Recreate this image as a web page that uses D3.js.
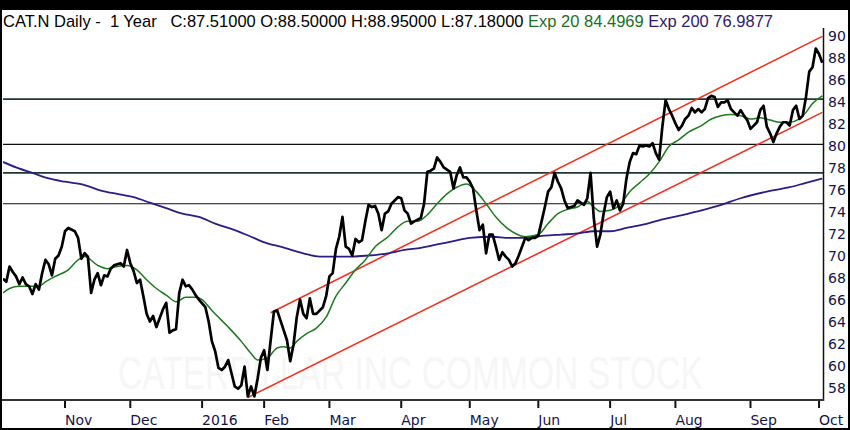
<!DOCTYPE html>
<html><head><meta charset="utf-8">
<script src="https://cdn.jsdelivr.net/npm/d3@7"></script>
<style>html,body{margin:0;padding:0;background:#000;} svg{display:block}</style>
</head><body>
<svg id="chart" width="850" height="430"></svg>
<script>
// ---- calendar ----
const startDate = "2015-10-06";
const endDate = "2016-10-04";
const holidays = ["2015-11-26","2015-12-25","2016-01-01","2016-01-18","2016-02-15","2016-03-25","2016-05-30","2016-07-04","2016-09-05"];
const monthStarts = ["2015-11","2015-12","2016-01","2016-02","2016-03","2016-04","2016-05","2016-06","2016-07","2016-08","2016-09","2016-10"];
const monthLabels = ["Nov","Dec","2016","Feb","Mar","Apr","May","Jun","Jul","Aug","Sep","Oct"];
const yTickLabels = [58,60,62,64,66,68,70,72,74,76,78,80,82,84,86,88,90];

// ---- close (trading-day offset from start, value) ----
const closeDay = [0,1,2,3,4,5,6,7,8,9,10,11,12,13,14,15,16,17,18,19,20,22,23,24,25,26,27,28,29,30,31,32,33,34,36,37,38,39,40,41,42,43,44,45,46,47,48,49,50,51,52,53,54,55,56,57,58,59,60,62,63,64,65,66,67,68,69,70,71,72,73,74,75,76,77,78,79,80,81,82,83,84,85,86,87,88,89,90,91,92,93,94,95,96,98,99,100,101,102,103,104,105,106,107,108,109,110,111,112,113,114,115,116,117,118,119,120,121,122,123,124,125,126,128,129,130,131,132,133,134,135,137,138,139,140,141,142,143,144,145,146,147,148,149,150,151,152,153,154,155,156,157,158,159,160,161,162,163,164,165,166,167,168,169,170,171,172,173,174,175,176,177,178,179,180,181,182,183,184,185,186,187,188,189,190,191,192,193,194,195,196,197,198,199,200,201,202,203,204,205,206,207,208,209,210,211,212,213,214,215,216,217,218,219,220,221,222,223,224,225,226,227,228,229,230,231,232,233,234,235,236,237,238,239,240,241,242,243,244,245,246,247,248,249,250,251];
const closeVal = [67.9,67.6,69.0,68.5,68.1,67.4,68.0,67.4,67.2,66.5,67.4,66.9,68.4,69.6,69.2,68.2,69.7,70.0,70.8,72.2,72.5,72.2,71.6,69.7,70.2,69.9,66.6,67.8,68.4,67.3,68.2,68.1,68.8,69.1,69.3,69.0,70.5,69.3,68.6,67.5,67.8,66.3,64.7,64.0,64.5,63.5,64.3,65.1,65.7,63.0,63.2,63.3,66.6,67.8,67.2,67.3,66.9,66.4,66.0,65.3,64.0,62.2,61.3,59.8,59.6,59.9,60.5,59.3,58.1,57.9,58.2,59.9,57.2,58.1,57.2,58.8,60.7,61.4,59.6,62.3,64.9,65.0,64.1,63.2,62.3,60.4,61.9,64.4,66.0,64.7,64.3,66.1,64.7,64.7,65.3,66.3,68.1,68.4,70.6,71.7,73.5,70.8,70.6,70.0,71.5,71.2,71.4,73.1,74.6,74.4,74.5,73.8,72.3,73.8,74.0,74.7,75.0,75.3,75.2,74.1,73.8,72.9,73.1,73.4,74.7,77.6,77.7,77.9,78.9,78.5,78.0,77.6,76.1,77.3,78.0,77.1,77.1,76.7,76.1,74.1,72.3,72.8,70.2,71.9,71.9,70.8,69.6,70.3,69.9,69.6,69.0,69.3,70.0,70.8,71.6,71.4,71.6,71.6,71.8,73.1,74.4,75.8,76.2,77.5,76.7,76.1,75.0,74.3,74.4,74.5,75.0,74.8,74.6,75.2,77.5,73.4,70.8,71.9,73.8,75.3,75.8,74.3,75.0,74.1,74.7,77.0,78.5,79.3,79.2,80.0,79.9,80.0,79.9,80.2,79.3,78.7,81.7,84.1,83.3,82.7,82.0,81.4,81.8,82.4,82.7,83.4,83.0,83.3,83.0,83.3,84.3,84.5,84.4,83.5,83.9,83.9,84.1,83.3,83.0,82.7,83.2,82.7,82.3,81.5,81.8,82.1,83.2,83.6,81.7,81.1,80.3,81.1,81.7,82.1,82.1,81.8,83.2,83.6,82.4,82.7,84.4,86.7,87.1,88.8,88.3,87.51];

// ---- Exp 20 ----
const ema20Day = [0,2,5,8,11,13,16,20,23,25,29,32,35,38,41,44,47,50,53,56,59,61,64,69,73,76,78,81,84,86,88,90,93,96,99,102,105,108,111,114,118,121,124,127,130,133,136,139,142,145,148,151,154,157,160,164,167,170,173,176,179,181,183,186,189,192,195,198,201,204,207,210,214,217,220,223,226,229,232,235,238,241,244,246,248,251];
const ema20Val = [66.6,67.0,67.2,67.2,67.2,67.6,68.1,68.7,69.6,69.9,69.1,68.8,69.0,69.1,68.7,67.8,67.0,66.4,65.8,66.2,66.2,66.0,65.0,63.5,62.2,61.1,60.5,60.7,61.6,61.7,61.6,62.2,62.9,63.4,64.4,66.3,67.5,68.7,69.6,70.8,71.7,72.6,73.1,73.1,73.7,74.7,75.6,76.2,76.5,75.8,74.7,73.5,72.6,72.0,71.7,71.9,72.9,73.8,74.2,74.4,74.9,74.4,74.0,74.1,74.6,75.8,76.6,77.4,78.5,79.9,80.5,81.2,81.8,82.4,82.7,82.8,82.7,82.4,82.5,82.3,82.1,82.1,82.4,83.0,83.8,84.4969];

// ---- Exp 200 ----
const ema200Day = [0,4,9,14,19,25,30,35,40,45,50,55,60,65,71,76,81,85,92,97,102,107,112,118,123,128,133,138,143,150,155,160,166,171,176,181,186,191,196,201,207,214,220,226,234,241,246,251];
const ema200Val = [78.5,78.0,77.5,77.0,76.7,76.4,75.9,75.6,75.3,74.8,74.3,73.8,73.5,72.9,72.3,71.7,71.1,70.8,70.2,69.9,69.9,69.9,70.0,70.2,70.5,70.7,71.0,71.3,71.6,71.7,71.6,71.6,71.8,71.9,72.0,72.2,72.2,72.5,72.8,73.2,73.6,74.1,74.6,75.2,75.8,76.2,76.6,76.9877];

// ---- drawn levels ----
const levels = [84.2, 80.1, 77.5, 74.7];
const levelHeavy = [true, false, true, false];
const upperChannel = [[82, 64.8], [251, 89.9]];
const lowerChannel = [[75, 57.1], [251, 83.0]];

const headerParts = [
  {t: "CAT.N Daily -  1 Year   C:87.51000 O:88.50000 H:88.95000 L:87.18000 ", c: "#000000"},
  {t: "Exp 20 84.4969 ", c: "#1f6e1f"},
  {t: "Exp 200 76.9877", c: "#2e1a6e"}
];
const watermark = "CATERPILLAR INC COMMON STOCK";

// ---- build trading calendar ----
const parse = d3.utcParse("%Y-%m-%d");
const fmt = d3.utcFormat("%Y-%m-%d");
const fmtM = d3.utcFormat("%Y-%m");
const hol = new Set(holidays);
const tradingDays = d3.utcDay.range(parse(startDate), d3.utcDay.offset(parse(endDate), 1))
  .filter(d => d.getUTCDay() !== 0 && d.getUTCDay() !== 6 && !hol.has(fmt(d)));
const monthTickIdx = monthStarts.map(m => tradingDays.findIndex(d => fmtM(d) === m));

// ---- scales ----
const L = 3, R = 823, T = 28, B = 400;
const x = d3.scaleLinear().domain([0, tradingDays.length - 1]).range([3, 822.3]);
const y = d3.scaleLinear().domain([58, 90]).range([387.6, 35.3]);

const svg = d3.select("#chart");
svg.append("rect").attr("x", 0).attr("y", 0).attr("width", 850).attr("height", 430).attr("fill", "#000");
svg.append("rect").attr("x", 2).attr("y", 10).attr("width", 846).attr("height", 418).attr("fill", "#fff");

svg.append("defs").append("clipPath").attr("id", "plot")
  .append("rect").attr("x", L).attr("y", T).attr("width", R - L).attr("height", B - T);

// watermark (narrow font size so its natural width fits, stretched vertically)
svg.append("text").attr("transform", "translate(118,389) scale(1,1.35)")
  .attr("font-family", "Liberation Sans, Arial, sans-serif").attr("font-size", 33.6)
  .attr("fill", "#f6f6f6").text(watermark);

// header
const hdr = svg.append("text").attr("x", 3).attr("y", 27)
  .attr("font-family", "Liberation Sans, Arial, sans-serif").attr("font-size", 16.4)
  .attr("textLength", 770).attr("lengthAdjust", "spacingAndGlyphs")
  .style("white-space", "pre");
hdr.selectAll("tspan").data(headerParts).join("tspan").attr("fill", d => d.c).text(d => d.t);

const g = svg.append("g").attr("clip-path", "url(#plot)");

// horizontal levels
g.selectAll("line.level").data(levels).join("line").attr("class", "level")
  .attr("x1", L).attr("x2", R).attr("y1", d => y(d)).attr("y2", d => y(d))
  .attr("stroke", (d, i) => levelHeavy[i] ? "#1d3a2e" : "#111")
  .attr("stroke-width", (d, i) => levelHeavy[i] ? 1.8 : 1.2);

// channel lines
g.selectAll("line.chan").data([upperChannel, lowerChannel]).join("line").attr("class", "chan")
  .attr("x1", d => x(d[0][0])).attr("y1", d => y(d[0][1]))
  .attr("x2", d => x(d[1][0])).attr("y2", d => y(d[1][1]))
  .attr("stroke", "#ee3322").attr("stroke-width", 1.6);

const smooth = d3.line().x(d => x(d[0])).y(d => y(d[1])).curve(d3.curveMonotoneX);
const straight = d3.line().x(d => x(d[0])).y(d => y(d[1]));

g.append("path").datum(d3.zip(ema200Day, ema200Val)).attr("d", smooth)
  .attr("fill", "none").attr("stroke", "#2c1d86").attr("stroke-width", 1.8);
g.append("path").datum(d3.zip(ema20Day, ema20Val)).attr("d", smooth)
  .attr("fill", "none").attr("stroke", "#1e7a1e").attr("stroke-width", 1.5);
g.append("path").datum(d3.zip(closeDay, closeVal)).attr("d", straight)
  .attr("fill", "none").attr("stroke", "#000").attr("stroke-width", 2.7)
  .attr("stroke-linejoin", "round");

// axes frame
svg.append("line").attr("x1", R + 0.5).attr("x2", R + 0.5).attr("y1", T).attr("y2", B + 1)
  .attr("stroke", "#111").attr("stroke-width", 1.5);
svg.append("line").attr("x1", 2).attr("x2", R + 1).attr("y1", B).attr("y2", B)
  .attr("stroke", "#333").attr("stroke-width", 2);

// x ticks and labels
const xt = svg.append("g");
xt.selectAll("line").data(monthTickIdx).join("line")
  .attr("x1", d => x(d)).attr("x2", d => x(d)).attr("y1", B + 1).attr("y2", B + 8)
  .attr("stroke", "#111").attr("stroke-width", 2);
xt.selectAll("text").data(monthTickIdx).join("text")
  .attr("x", d => x(d)).attr("y", 425)
  .attr("font-family", "DejaVu Sans, sans-serif").attr("font-size", 14)
  .attr("fill", "#14144a").text((d, i) => monthLabels[i]);

// y labels
svg.append("g").selectAll("text").data(yTickLabels).join("text")
  .attr("x", 828).attr("y", d => y(d) + 5.5)
  .attr("font-family", "DejaVu Sans, sans-serif").attr("font-size", 14)
  .attr("fill", "#14144a").text(d => d);
</script>
</body></html>
